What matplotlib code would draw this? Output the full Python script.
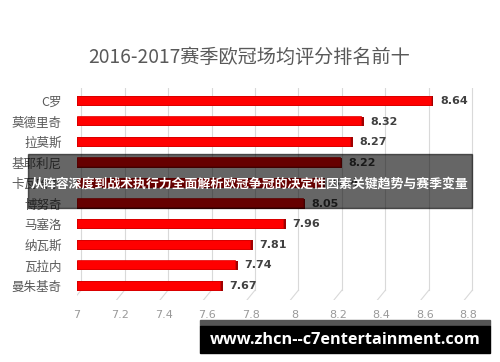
import matplotlib
matplotlib.use('Agg')
import matplotlib.pyplot as plt
from matplotlib.patches import Rectangle

plt.rcParams['font.family'] = ['Noto Sans CJK SC', 'DejaVu Sans']

# data
players = ['C罗', '莫德里奇', '拉莫斯', '基耶利尼', '卡瓦哈尔', '博努奇', '马塞洛', '纳瓦斯', '瓦拉内', '曼朱基奇']
scores = [8.64, 8.32, 8.27, 8.22, 8.14, 8.05, 7.96, 7.81, 7.74, 7.67]
xticks = [7, 7.2, 7.4, 7.6, 7.8, 8, 8.2, 8.4, 8.6, 8.8]
title = '2016-2017赛季欧冠场均评分排名前十'
banner = '从阵容深度到战术执行力全面解析欧冠争冠的决定性因素关键趋势与赛季变量'
site = 'www.zhcn--c7entertainment.com'

W, H = 500, 362
fig = plt.figure(figsize=(W / 100, H / 100), dpi=100)
fig.patch.set_facecolor('white')

def fx(x):
    return x / W

def fy(y):
    return 1 - y / H

# axes: x=7 at px 77, x=8.9 at px 490 ; top px 88, bottom px 300
ax = fig.add_axes([fx(77), fy(300), fx(490) - fx(77), fy(88) - fy(300)])
ypos = list(range(len(players)))
ax.set_xlim(7, 8.9)
ax.set_ylim(9.68, -0.63)

# 3d-ish gridlines: back wall + floor diagonal
dx = 0.019
for t in xticks:
    ax.plot([t + dx, t + dx], [-0.63, 9.2], color='#d9d9d9', lw=0.8, zorder=0)
    ax.plot([t + dx, t - 0.018], [9.2, 9.68], color='#d9d9d9', lw=0.8, zorder=0)

# bars with a darker shadow edge
ax.barh(ypos, [s - 7 for s in scores], left=7, height=0.48, color='#a00000',
        zorder=2, edgecolor='none')
ax.barh([p - 0.04 for p in ypos], [s - 7 - 0.012 for s in scores], left=7, height=0.44,
        color='#ff0000', edgecolor='#e00000', lw=0.5, zorder=3)

for p, s in zip(ypos, scores):
    ax.text(s + 0.03, p, f'{s:.2f}', va='center', ha='left', fontsize=8,
            fontweight='bold', color='#404040', family='DejaVu Sans')

ax.set_yticks(ypos)
ax.set_yticklabels(players, fontsize=9, color='#595959')
ax.set_xticks(xticks)
ax.set_xticklabels([f'{t:g}' for t in xticks], fontsize=8, color='#999999',
                   family='DejaVu Sans')
ax.tick_params(axis='both', length=0)
ax.tick_params(axis='y', pad=11)
ax.tick_params(axis='x', pad=7)
for sp in ax.spines.values():
    sp.set_visible(False)

fig.text(fx(249), fy(57), title, ha='center', va='center', fontsize=13.8, color='#595959')

# overlay banner
fig.add_artist(Rectangle((fx(28), fy(208)), fx(472) - fx(28), fy(154) - fy(208),
                         transform=fig.transFigure, color='black', alpha=0.6, zorder=10))
fig.text(fx(250), fy(184), banner, ha='center', va='center', fontsize=9.3,
         fontweight='bold', color='white', zorder=11)

# site box
fig.add_artist(Rectangle((fx(200), fy(326)), fx(490) - fx(200), fy(320) - fy(326),
                         transform=fig.transFigure, color='#555555', zorder=10))
fig.add_artist(Rectangle((fx(200), fy(353)), fx(490) - fx(200), fy(326) - fy(353),
                         transform=fig.transFigure, color='black', zorder=10))
fig.text(fx(345), fy(340), site, ha='center', va='center', fontsize=11.7,
         fontweight='bold', color='white', family='Open Sans', zorder=11)

fig.savefig('out.png', dpi=100)
